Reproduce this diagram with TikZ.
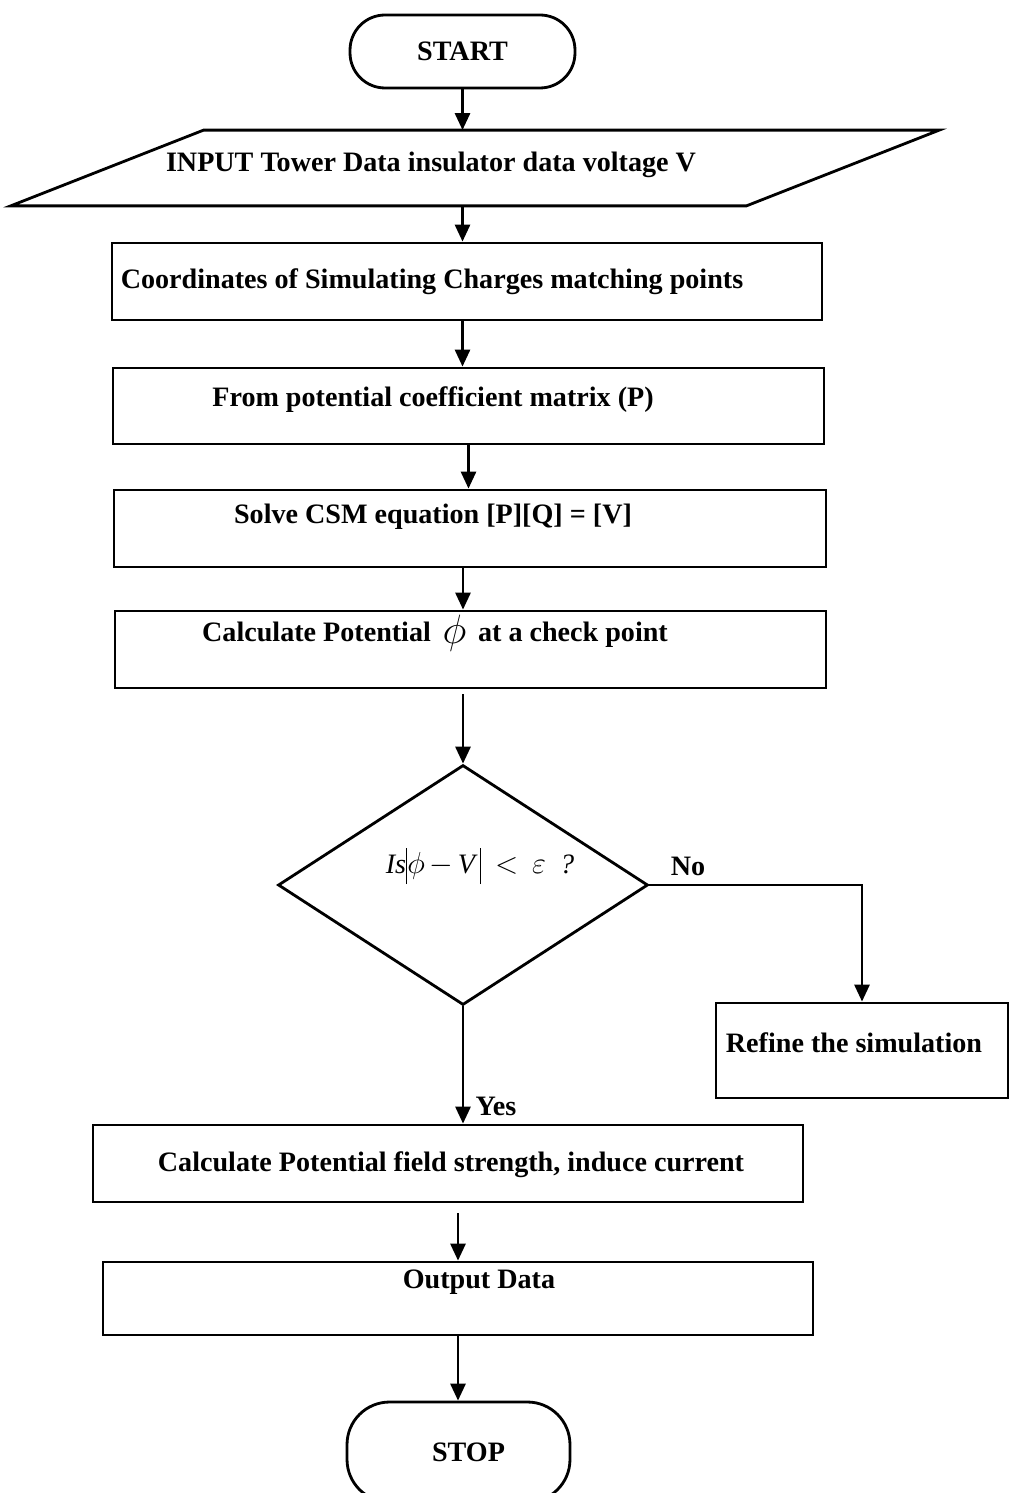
\documentclass[tikz,border=0pt]{standalone}
\usepackage{fontspec}
\setmainfont{Liberation Serif}
\usetikzlibrary{arrows.meta,shapes.geometric}
\begin{document}
\begin{tikzpicture}[x=0.02cm,y=-0.02cm,line width=1.6pt,
  box/.style={draw,rectangle,minimum width=14.2cm,minimum height=1.54cm,inner sep=0pt},
  term/.style={draw,rectangle,rounded corners=0.7cm,minimum width=4.5cm,minimum height=1.46cm,
    font=\fontsize{16}{19}\selectfont\bfseries},
  txt/.style={inner sep=0pt,font=\fontsize{16}{19}\selectfont\bfseries},
  arr/.style={-{Triangle[width=0.3cm,length=0.34cm]}}]
\clip (0,0) rectangle (1010,1493);
% terminals
\node[term] (start) at (462.5,51.5) {START};
\node[term,rounded corners=0.85cm,minimum width=4.46cm,minimum height=2cm] (stop) at (458.5,1452) {\hspace*{0.4cm}STOP};
% input
\node[minimum width=14.66cm,minimum height=1.46cm,inner sep=0pt] (in) at (475,168) {};
\draw ([xshift=1.93cm]in.north west) -- ([xshift=1.93cm]in.north east)
  -- ([xshift=-1.93cm]in.south east) -- ([xshift=-1.93cm]in.south west) -- cycle;
\node[txt] (t1) at (431,165) {INPUT Tower Data insulator data voltage V};
% boxes
\node[box] (b2) at (467,281.5) {};
\node[txt] (t2) at (432,282) {Coordinates of Simulating Charges matching points};
\node[box,minimum width=14.22cm,minimum height=1.52cm] (b3) at (468.5,406) {};
\node[txt] (t3) at (433,400) {From potential coefficient matrix (P)};
\node[box,minimum width=14.24cm] (b4) at (470,528.5) {};
\node[txt] (t4) at (433,517) {Solve CSM equation [P][Q] = [V]};
\node[box,minimum width=14.22cm] (b5) at (470.5,649.5) {};
\node[txt] (t5) at (435,633) {Calculate Potential \,\raisebox{-1pt}{\scalebox{1.35}{$\phi$}}\, at a check point};
% decision
\node[draw,diamond,minimum width=7.4cm,minimum height=4.8cm,inner sep=0pt] (d1) at (463,885) {};
\node[txt] (td) at (480,866) {\mdseries\itshape Is\rule[-0.22cm]{0.7pt}{0.72cm}$\phi$\,$-$\,V\,\rule[-0.22cm]{0.7pt}{0.72cm}\ \ $<$\ \ $\varepsilon$\ \ ?};
\node[txt] (no) at (688,866) {No};
\node[txt] (yes) at (496,1106) {Yes};
\node[box,minimum width=5.84cm,minimum height=1.9cm] (rf) at (862,1050.5) {};
\node[txt] (trf) at (854,1043) {Refine the simulation};
\node[box] (b7) at (448,1163.5) {};
\node[txt] (t7) at (451,1165) {Calculate Potential field strength, induce current};
\node[box,minimum height=1.46cm] (b8) at (458,1298.5) {};
\node[txt] (t8) at (479,1282) {Output Data};
% arrows
\draw[arr] (start.south) -- (start.south |- in.north);
\draw[arr] (start.south |- in.south) -- (start.south |- b2.north);
\draw[arr] (start.south |- b2.south) -- (start.south |- b3.north);
\draw[arr] (b3.south) -- (b3.south |- b4.north);
\draw[arr] (d1.north |- b4.south) -- (d1.north |- b5.north);
\draw[arr,shorten <=0.1cm] (d1.north |- b5.south) -- (d1.north);
\draw[arr] (d1.east) -| (rf.north);
\draw[arr] (d1.south) -- (d1.south |- b7.north);
\draw[arr,shorten <=0.2cm] (b8.north |- b7.south) -- (b8.north);
\draw[arr] (b8.south) -- (b8.south |- stop.north);
\end{tikzpicture}
\end{document}
